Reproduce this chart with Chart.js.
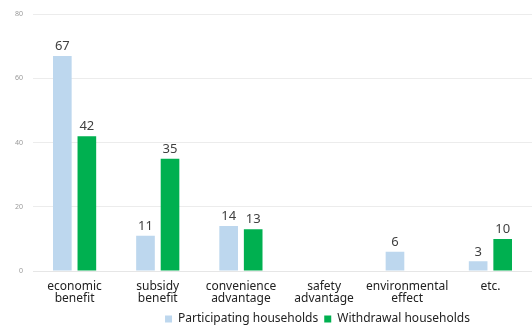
<!DOCTYPE html>
<html>
<head>
<meta charset="utf-8">
<script src="https://cdn.jsdelivr.net/npm/chart.js@4"></script>
<style>
  body { margin: 0; background: #fff; }
</style>
</head>
<body>
<canvas id="reasonChart" width="532" height="328"></canvas>
<script>
const categories = [
    ["economic", "benefit"],
    ["subsidy", "benefit"],
    ["convenience", "advantage"],
    ["safety", "advantage"],
    ["environmental", "effect"],
    ["etc."]
];
const participating = [67, 11, 14, null, 6, 3];
const withdrawal = [42, 35, 13, null, null, 10];
const yTicks = [0, 20, 40, 60, 80];

// write the value above every bar
const barValues = {
    id: "barValues",
    afterDatasetsDraw(chart) {
        const ctx = chart.ctx;
        ctx.save();
        ctx.font = "13px 'Noto Sans'";
        ctx.fillStyle = "#404040";
        ctx.textAlign = "center";
        ctx.textBaseline = "bottom";
        chart.data.datasets.forEach(function (ds, i) {
            chart.getDatasetMeta(i).data.forEach(function (bar, j) {
                if (ds.data[j] == null) return;
                ctx.fillText(ds.data[j], bar.x, bar.y - 3);
            });
        });
        ctx.restore();
    }
};

// the legend sits a bit right of centre in the original
const shiftLegend = {
    id: "shiftLegend",
    afterLayout(chart) {
        chart.legend.left += 46;
        chart.legend.right += 46;
    }
};

new Chart(document.getElementById("reasonChart"), {
    type: "bar",
    data: {
        labels: categories,
        datasets: [
            {
                label: "Participating households",
                data: participating,
                backgroundColor: "#bdd7ee"
            },
            {
                label: "Withdrawal households",
                data: withdrawal,
                backgroundColor: "#00b050"
            }
        ]
    },
    options: {
        responsive: false,
        animation: false,
        devicePixelRatio: 1,
        layout: { padding: { top: 9, right: -6, left: 5, bottom: -7 } },
        categoryPercentage: 0.59,
        barPercentage: 0.76,
        scales: {
            x: {
                grid: { display: false },
                border: { color: "#e6e6e6" },
                ticks: {
                    color: "#222",
                    font: { family: "Noto Sans", size: 12, lineHeight: 1.0 },
                    maxRotation: 0,
                    autoSkip: false,
                    padding: 2
                }
            },
            y: {
                min: 0,
                max: 80,
                afterBuildTicks(axis) {
                    axis.ticks = yTicks.map(v => ({ value: v }));
                },
                grid: { color: "#ececec", drawTicks: false },
                border: { display: false },
                ticks: {
                    color: "#999",
                    font: { family: "Noto Sans", size: 7 },
                    padding: 10
                }
            }
        },
        plugins: {
            legend: {
                position: "bottom",
                labels: {
                    color: "#222",
                    font: { family: "Noto Sans", size: 12 },
                    boxWidth: 7,
                    boxHeight: 7,
                    padding: 6
                }
            },
            tooltip: { enabled: false }
        }
    },
    plugins: [barValues, shiftLegend]
});
</script>
</body>
</html>
